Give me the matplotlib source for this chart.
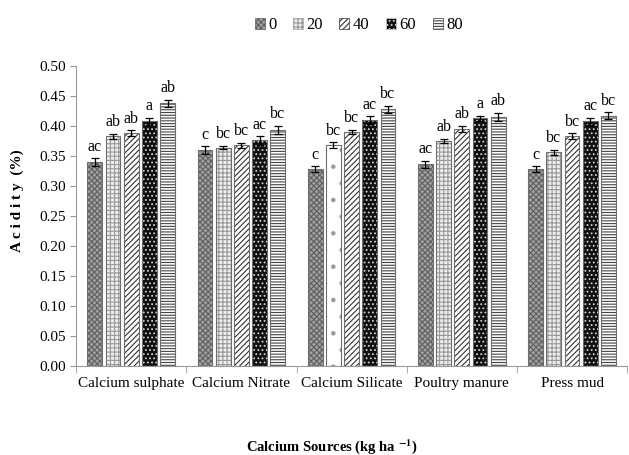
import numpy as np
import matplotlib
matplotlib.use("Agg")
import matplotlib.pyplot as plt
from matplotlib.patches import Patch

# Datos
sources = ['Calcium sulphate', 'Calcium Nitrate', 'Calcium Silicate',
           'Poultry manure', 'Press mud']
doses = ['0', '20', '40', '60', '80']
acidity = {
    '0':  [0.340, 0.360, 0.328, 0.336, 0.328],
    '20': [0.383, 0.364, 0.368, 0.375, 0.356],
    '40': [0.388, 0.368, 0.390, 0.395, 0.383],
    '60': [0.408, 0.376, 0.410, 0.413, 0.408],
    '80': [0.438, 0.393, 0.428, 0.415, 0.417],
}
errors = {
    '0':  [0.006, 0.006, 0.005, 0.006, 0.005],
    '20': [0.004, 0.003, 0.005, 0.004, 0.004],
    '40': [0.005, 0.004, 0.004, 0.005, 0.005],
    '60': [0.006, 0.007, 0.006, 0.004, 0.006],
    '80': [0.006, 0.007, 0.006, 0.007, 0.006],
}
letters = {
    '0':  ['ac', 'c', 'c', 'ac', 'c'],
    '20': ['ab', 'bc', 'bc', 'ab', 'bc'],
    '40': ['ab', 'bc', 'bc', 'ab', 'bc'],
    '60': ['a', 'ac', 'ac', 'a', 'ac'],
    '80': ['ab', 'bc', 'bc', 'ab', 'bc'],
}

# estilo de cada serie: (relleno, color del rayado, rayado)
styles = {
    '0':  ('#a0a0a0', '#606060', 'xxxxxx'),
    '20': ('#eeeeee', '#999999', '++++'),
    '40': ('white', '#333333', '//////'),
    '60': ('#101010', '#cfcfcf', '....'),
    '80': ('white', '#444444', '------'),
}

plt.rcParams['font.family'] = ['Liberation Serif', 'DejaVu Serif']
plt.rcParams['mathtext.fontset'] = 'stix'
plt.rcParams['hatch.linewidth'] = 0.8

fig = plt.figure(figsize=(6.29, 4.55), dpi=100)
ax = fig.add_axes([0.121, 0.196, 0.876, 0.659])

x = np.arange(len(sources))
step = 0.165
width = 0.135

for i, d in enumerate(doses):
    pos = x + (i - 2) * step
    face, hcol, hatch = styles[d]
    for j in range(len(sources)):
        h = hatch
        f = face
        if d == '20' and j == 2:   # barra distinta en Calcium Silicate
            h, f = '.', 'white'
        ax.bar(pos[j], acidity[d][j], width=width, color=f, edgecolor=hcol,
               hatch=h, linewidth=0, zorder=2)
        ax.bar(pos[j], acidity[d][j], width=width, color='none',
               edgecolor='#6e6e6e', linewidth=0.8, zorder=3)
    ax.errorbar(pos, acidity[d], yerr=errors[d], fmt='none', ecolor='black',
                elinewidth=0.9, capsize=3, capthick=0.9, zorder=4)
    for j in range(len(sources)):
        ax.text(pos[j], acidity[d][j] + errors[d][j] + 0.006, letters[d][j],
                ha='center', va='bottom', fontsize=11.5)

ax.set_xlim(-0.5, 4.5)
ax.set_ylim(0, 0.5)
ax.set_yticks(np.arange(0, 0.501, 0.05))
ax.set_yticklabels([f'{v:.2f}' for v in np.arange(0, 0.501, 0.05)], fontsize=11)
ax.set_xticks(x)
ax.set_xticklabels(sources, fontsize=11)
ax.set_xticks(np.arange(-0.5, 4.6, 1), minor=True)
ax.tick_params(axis='x', which='major', length=0, pad=8)
ax.tick_params(axis='x', which='minor', length=5, color='#999999')
ax.tick_params(axis='y', length=4, color='#999999')

ax.spines['top'].set_visible(False)
ax.spines['right'].set_visible(False)
ax.spines['left'].set_color('#999999')
ax.spines['bottom'].set_color('#999999')

ax.set_ylabel('A c i d i t y  (%)', fontsize=11, fontweight='bold')
ax.yaxis.set_label_coords(-0.095, 0.55)
fig.text(0.527, 0.01, r'Calcium Sources (kg ha $^{\mathbf{-1}}$)', ha='center',
         fontsize=10.5, fontweight='bold')

handles = [Patch(facecolor=styles[d][0], edgecolor=styles[d][1],
                 hatch=styles[d][2], linewidth=0.5) for d in doses]
fig.legend(handles, doses, loc='upper center', bbox_to_anchor=(0.57, 0.995),
           ncol=5, frameon=False, fontsize=12, handlelength=0.6,
           handleheight=0.6, handletextpad=0.2, columnspacing=1.0)

fig.savefig('out.png', dpi=100)
